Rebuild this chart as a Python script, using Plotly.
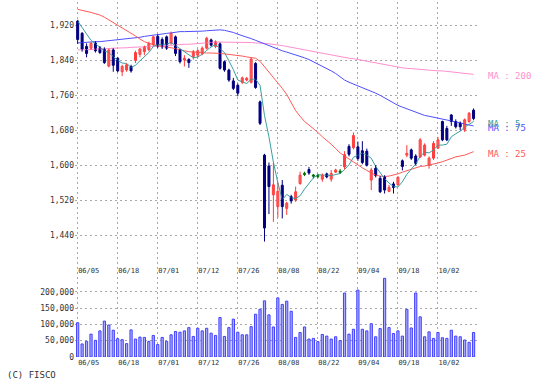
import plotly.graph_objects as go

# ---------------- data ----------------
dates = ["06/05","06/06","06/07","06/10","06/11","06/12","06/13","06/14","06/17","06/18",
         "06/19","06/20","06/21","06/24","06/25","06/26","06/27","06/28","07/01","07/02",
         "07/03","07/04","07/05","07/08","07/09","07/10","07/11","07/12","07/16","07/17",
         "07/18","07/19","07/22","07/23","07/24","07/25","07/26","07/29","07/30","07/31",
         "08/01","08/02","08/05","08/06","08/07","08/08","08/09","08/13","08/14","08/15",
         "08/16","08/19","08/20","08/21","08/22","08/23","08/26","08/27","08/28","08/29",
         "08/30","09/02","09/03","09/04","09/05","09/06","09/09","09/10","09/11","09/12",
         "09/13","09/17","09/18","09/19","09/20","09/24","09/25","09/26","09/27","09/30",
         "10/01","10/02","10/03","10/04","10/07","10/08","10/09","10/10","10/11","10/15"]
date_labels = ["06/05","06/18","07/01","07/12","07/26","08/08","08/22","09/04","09/18","10/02"]

opens = [1930,1902,1872,1868,1880,1869,1866,1827,1864,1845,
         1814,1818,1826,1840,1854,1860,1865,1876,1895,1888,
         1894,1880,1894,1864,1841,1842,1849,1852,1856,1868,
         1887,1872,1878,1837,1818,1793,1783,1790,1795,1790,
         1833,1745,1623,1598,1532,1505,1554,1501,1528,1520,
         1558,1580,1590,1576,1575,1568,1580,1568,1584,1585,
         1596,1643,1640,1642,1633,1632,1566,1593,1570,1574,
         1540,1557,1555,1610,1623,1635,1621,1619,1623,1600,
         1616,1639,1700,1684,1715,1700,1696,1681,1700,1726]
highs = [1933,1905,1879,1882,1884,1873,1870,1867,1868,1848,
         1830,1833,1830,1862,1868,1874,1883,1897,1900,1893,
         1897,1906,1897,1866,1852,1845,1864,1866,1872,1894,
         1890,1886,1881,1840,1821,1800,1787,1803,1802,1846,
         1836,1748,1626,1606,1605,1560,1566,1516,1532,1551,
         1585,1585,1596,1580,1580,1581,1583,1589,1592,1591,
         1632,1648,1675,1654,1655,1638,1594,1600,1575,1577,
         1555,1562,1575,1613,1646,1638,1625,1662,1650,1620,
         1655,1665,1702,1690,1717,1705,1700,1707,1722,1730]
lows = [1878,1860,1847,1864,1858,1855,1832,1824,1814,1813,
        1804,1814,1812,1834,1847,1852,1861,1873,1868,1866,
        1864,1876,1850,1833,1826,1823,1842,1846,1852,1865,
        1872,1868,1819,1814,1791,1772,1758,1786,1792,1787,
        1775,1692,1425,1488,1470,1480,1478,1486,1512,1516,
        1555,1575,1578,1570,1570,1562,1570,1562,1582,1580,
        1590,1620,1636,1610,1602,1597,1543,1572,1536,1535,
        1538,1535,1553,1588,1618,1612,1600,1616,1620,1592,
        1612,1637,1655,1655,1690,1684,1680,1676,1697,1703]
closes = [1888,1866,1856,1879,1862,1858,1835,1864,1829,1816,
          1826,1830,1816,1858,1866,1871,1879,1894,1872,1871,
          1868,1902,1856,1837,1845,1835,1860,1862,1868,1891,
          1875,1883,1822,1818,1795,1776,1765,1800,1799,1843,
          1778,1696,1456,1551,1555,1540,1505,1513,1518,1539,
          1577,1580,1582,1576,1575,1577,1573,1581,1589,1585,
          1624,1625,1668,1615,1606,1600,1589,1576,1539,1543,
          1549,1549,1572,1597,1627,1616,1604,1658,1646,1616,
          1650,1658,1658,1658,1700,1688,1688,1704,1719,1707]
volumes = [105000,40000,48000,70000,51000,80000,110000,98000,82000,56000,
           53000,41000,83000,55000,61000,60000,48000,66000,38000,60000,
           48000,68000,78000,76000,80000,90000,63000,88000,80000,88000,
           73000,66000,121000,63000,90000,116000,76000,68000,68000,93000,
           131000,146000,172000,129000,92000,181000,161000,171000,140000,60000,
           75000,92000,55000,57000,47000,69000,64000,55000,62000,50000,
           196000,70000,85000,205000,85000,80000,102000,62000,87000,241000,
           90000,72000,80000,64000,146000,89000,196000,123000,62000,77000,
           57000,75000,59000,57000,82000,64000,62000,52000,45000,75000]
ma5 = [1930,1915,1899,1886,1878,1870,1862,1858,1848,1840,
       1834,1833,1824,1829,1839,1848,1858,1872,1876,1877,
       1877,1881,1874,1867,1861,1855,1846,1848,1854,1863,
       1871,1876,1868,1858,1839,1819,1795,1791,1787,1797,
       1797,1783,1714,1665,1607,1560,1521,1533,1526,1523,
       1530,1545,1559,1571,1578,1578,1577,1576,1579,1581,
       1590,1601,1618,1623,1628,1623,1616,1597,1582,1569,
       1559,1551,1550,1562,1579,1592,1603,1620,1630,1628,
       1635,1646,1646,1648,1665,1672,1678,1687,1694,1700]
ma25 = [1957,1955,1952,1950,1947,1944,1939,1933,1927,1921,
        1915,1909,1903,1896,1889,1883,1879,1876,1874,1872,
        1871,1869,1867,1864,1862,1860,1859,1858,1857,1857,
        1857,1857,1856,1855,1854,1853,1852,1850,1848,1847,
        1845,1838,1826,1814,1802,1790,1776,1762,1744,1725,
        1712,1700,1692,1684,1675,1665,1657,1648,1638,1628,
        1621,1614,1607,1600,1594,1588,1582,1577,1575,1574,
        1575,1577,1580,1584,1587,1590,1593,1597,1598,1600,
        1602,1605,1608,1612,1615,1619,1621,1623,1627,1631]
ma75 = [1880,1881,1882,1882,1883,1883,1884,1885,1886,1887,
        1888,1889,1890,1892,1893,1895,1897,1898,1899,1901,
        1902,1903,1905,1906,1906,1906,1906,1906,1907,1908,
        1909,1910,1910,1909,1907,1904,1900,1897,1893,1890,
        1886,1882,1877,1873,1869,1866,1862,1859,1856,1853,
        1850,1846,1842,1837,1832,1827,1822,1816,1810,1802,
        1795,1790,1786,1782,1778,1774,1770,1765,1760,1754,
        1748,1743,1737,1733,1729,1725,1721,1717,1714,1712,
        1710,1708,1706,1704,1701,1699,1697,1694,1692,1690]
ma200 = [1864,1864,1865,1865,1866,1866,1867,1867,1868,1868,
         1869,1869,1870,1870,1871,1871,1872,1872,1873,1873,
         1874,1875,1875,1876,1877,1877,1878,1879,1880,1880,
         1881,1882,1882,1882,1882,1882,1882,1882,1881,1881,
         1880,1880,1879,1878,1877,1875,1874,1872,1870,1868,
         1866,1864,1862,1860,1858,1857,1855,1853,1851,1849,
         1847,1845,1844,1842,1841,1839,1837,1835,1833,1831,
         1829,1827,1825,1823,1822,1821,1820,1819,1818,1817,
         1817,1816,1816,1815,1814,1813,1812,1810,1809,1808]
price_ticks = [1440, 1520, 1600, 1680, 1760, 1840, 1920]
volume_ticks = [0, 50000, 100000, 150000, 200000]

# ---------------- styling / layout constants ----------------
W, H = 533, 388
ML, MR, MT, MB = 75, 55, 2, 31
PW, PH = W - ML - MR, H - MT - MB
SPLIT_PX = 262                      # boundary between price and volume panels
split = (H - MB - SPLIT_PX) / PH

FONT = "DejaVu Sans Mono"
GRID = "#a8a8a8"
DASH = "2px,3px"
TXT = "#333333"

UP_FILL, UP_LINE = "#ffa3a3", "#ff3b3b"
DN_COL = "#000080"
EQ_COL = "#007000"

x = list(range(len(dates)))
tick_idx = [dates.index(d) for d in date_labels]

up = [i for i in x if closes[i] > opens[i]]
dn = [i for i in x if closes[i] < opens[i]]
eq = [i for i in x if closes[i] == opens[i]]


def wick_xy(idx):
    xs, ys = [], []
    for i in idx:
        xs += [i, i, None]
        ys += [lows[i], highs[i], None]
    return xs, ys


fig = go.Figure()

# volume
fig.add_trace(go.Bar(x=x, y=volumes, xaxis="x2", yaxis="y2", width=0.5,
                     marker=dict(color="#aaaaff", line=dict(color="#4040ff", width=1)),
                     hoverinfo="skip"))

# moving averages
for vals, col in [(ma200, "#ff8fcf"), (ma75, "#4f4fff"), (ma25, "#ff5a5a"), (ma5, "#3a9f9f")]:
    fig.add_trace(go.Scatter(x=x, y=vals, mode="lines", line=dict(color=col, width=1),
                             hoverinfo="skip"))

# wicks
for idx, col in [(up, UP_LINE), (dn, DN_COL), (eq, EQ_COL)]:
    wx, wy = wick_xy(idx)
    fig.add_trace(go.Scatter(x=wx, y=wy, mode="lines", line=dict(color=col, width=1),
                             hoverinfo="skip"))

# bodies
fig.add_trace(go.Bar(x=up, base=[opens[i] for i in up], y=[closes[i] - opens[i] for i in up],
                     width=0.45, marker=dict(color=UP_FILL, line=dict(color=UP_LINE, width=1)),
                     hoverinfo="skip"))
fig.add_trace(go.Bar(x=dn, base=[closes[i] for i in dn], y=[opens[i] - closes[i] for i in dn],
                     width=0.45, marker=dict(color=DN_COL, line=dict(color=DN_COL, width=1)),
                     hoverinfo="skip"))
fig.add_trace(go.Bar(x=eq, base=[opens[i] - 1.5 for i in eq], y=[3 for i in eq],
                     width=0.45, marker=dict(color=EQ_COL, line=dict(color=EQ_COL, width=1)),
                     hoverinfo="skip"))

# MA labels at the right end of each line
last = x[-1]
for name, vals, col in [("MA : 200", ma200, "#ff8fcf"), ("MA : 75", ma75, "#4f4fff"),
                        ("MA : 5", ma5, "#3a9f9f"), ("MA : 25", ma25, "#ff5a5a")]:
    fig.add_annotation(x=last, y=vals[-1], xref="x", yref="y", text=name, showarrow=False,
                       xanchor="left", yanchor="middle", xshift=12, yshift=-2,
                       font=dict(family=FONT, size=9, color=col))

fig.add_annotation(x=(5 - ML) / PW, y=(H - MB - 375) / PH, xref="paper", yref="paper",
                   text="(C) FISCO", showarrow=False, xanchor="left", yanchor="middle",
                   font=dict(family=FONT, size=9, color=TXT))

# price axis range derived from pixel anchors (1920 @ 25.5px, 1440 @ 235px)
ppu = (235 - 25.5) / (1920 - 1440)
y_top = 1920 + (25.5 - MT) / ppu
y_bot = 1440 - (SPLIT_PX - 235) / ppu
v_ppu = (357 - 291.7) / 200000
v_top = (H - MB - SPLIT_PX) / v_ppu

xcommon = dict(range=[-0.6, 90.0], showgrid=True, gridcolor=GRID, griddash=DASH, gridwidth=1,
               zeroline=False, showline=False, ticks="", tickmode="array",
               tickvals=tick_idx, ticktext=date_labels, ticklabelshift=11,
               tickfont=dict(family=FONT, size=7, color=TXT))

fig.update_layout(
    width=W, height=H, margin=dict(l=ML, r=MR, t=MT, b=MB),
    paper_bgcolor="white", plot_bgcolor="white", showlegend=False, barmode="overlay",
    hovermode=False,
    xaxis=dict(domain=[0, 1], anchor="y", ticklabelstandoff=3, **xcommon),
    xaxis2=dict(domain=[0, 1], anchor="y2", matches="x", **xcommon),
    yaxis=dict(domain=[split, 1], range=[y_bot, y_top], tickmode="array", tickvals=price_ticks,
               tickformat=",", showgrid=True, gridcolor=GRID, griddash=DASH, zeroline=False,
               showline=False, ticks="", tickfont=dict(family=FONT, size=8, color=TXT)),
    yaxis2=dict(domain=[0, split], range=[0, v_top], tickmode="array", tickvals=volume_ticks,
                tickformat=",", showgrid=True, gridcolor=GRID, griddash=DASH, zeroline=False,
                showline=False, ticks="", tickfont=dict(family=FONT, size=8, color=TXT)),
)

fig.write_html("out.html", config={"displayModeBar": False},
               post_script="document.body.style.margin='0';document.body.style.overflow='hidden';")
